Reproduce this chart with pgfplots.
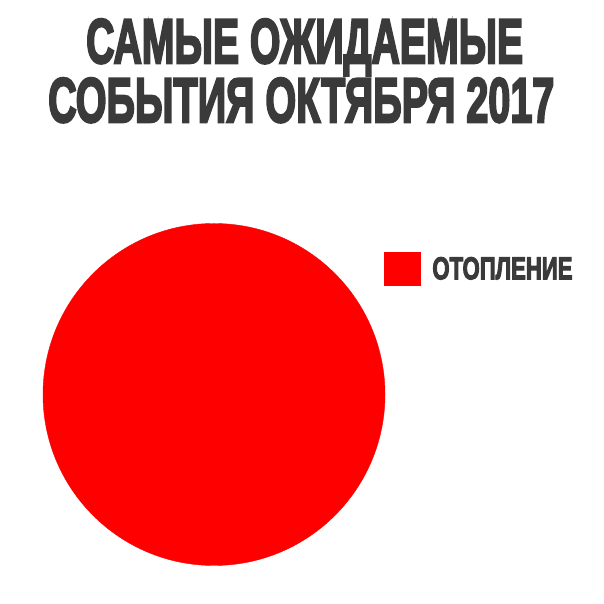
\documentclass[border=0pt]{standalone}
\usepackage{fontspec}
\usepackage{graphicx}
\usepackage{pgfplots}
\pgfplotsset{compat=1.18}
\newfontfamily\impactfont{Liberation Sans}[UprightFont=* Bold, FakeBold=4]
\definecolor{titlegray}{HTML}{3A3A3A}
\definecolor{pieRed}{HTML}{FE0000}

\begin{document}
\begin{tikzpicture}
\useasboundingbox (0,0) rectangle (604pt,604pt);
\begin{axis}[
  at={(0,0)}, anchor=south west,
  scale only axis, width=604pt, height=604pt,
  xmin=0, xmax=604, ymin=0, ymax=604,
  hide axis, clip=false,
  legend style={draw=none, fill=none, inner sep=0pt, outer sep=0pt,
    at={(axis cs:384,335)}, anchor=west,
    nodes={inner sep=0pt, text=titlegray},
    /tikz/every odd column/.append style={column sep=12pt}},
  legend image code/.code={\fill[pieRed] (0pt,-16.5pt) rectangle (36pt,16.5pt);},
]
% single slice: Отопление = 100 %
\addplot[only marks, mark=*, mark size=171pt, color=pieRed,
  mark options={draw=none, fill=pieRed}] coordinates {(214,209.5)};
\addlegendentry{\resizebox{140pt}{22pt}{\impactfont ОТОПЛЕНИЕ}}
\end{axis}
\node[anchor=base west, inner sep=0pt, text=titlegray] at (86pt,541pt)
  {\resizebox{437pt}{44pt}{\impactfont САМЫЕ ОЖИДАЕМЫЕ}};
\node[anchor=base west, inner sep=0pt, text=titlegray] at (48pt,482pt)
  {\resizebox{506pt}{44pt}{\impactfont СОБЫТИЯ ОКТЯБРЯ 2017}};
\end{tikzpicture}
\end{document}
